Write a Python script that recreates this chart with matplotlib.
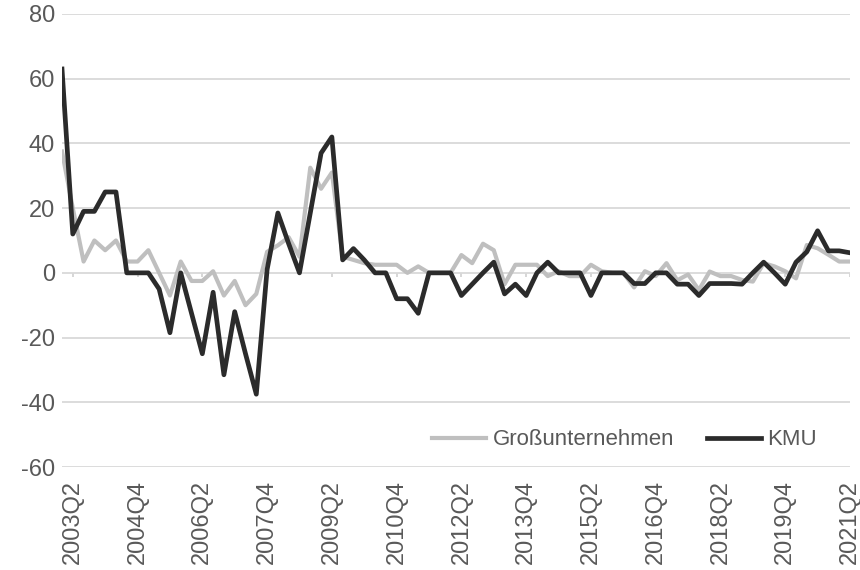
import matplotlib.pyplot as plt
import numpy as np

plt.rcParams['font.family'] = ['Liberation Sans', 'DejaVu Sans']
plt.rcParams['axes.unicode_minus'] = False

# Quartale 2003Q1 bis 2021Q2
quartale = [f"{jahr}Q{q}" for jahr in range(2003, 2022) for q in range(1, 5)]
quartale = quartale[:quartale.index("2021Q2") + 1]

gross = [37.5, 20, 3.5, 10, 7, 10, 3.5, 3.5, 7, 0,
         -7, 3.5, -2.5, -2.5, 0.5, -7, -2.5, -10, -6.5, 6.5,
         8.5, 11, 5, 32.5, 26, 31, 5, 4, 3, 2.5,
         2.5, 2.5, 0, 2, 0, 0, 0, 5.5, 3, 9,
         7, -3.5, 2.5, 2.5, 2.5, -1, 0.5, -1, -1, 2.5,
         0.5, 0, 0, -4.5, 0.5, -1, 3, -2.3, -0.5, -5.3,
         0.4, -1, -1, -2.2, -2.7, 3, 2, 0.5, -1.7, 8.6,
         7.6, 5.6, 3.5, 3.5]

kmu = [63, 12, 19, 19, 25, 25, 0, 0, 0, -5,
       -18.5, 0, -12.5, -25, -6, -31.5, -12, -25, -37.5, 1,
       18.5, 9, 0, 18.5, 37, 42, 4, 7.5, 4, 0,
       0, -8, -8, -12.5, 0, 0, 0, -7, -3.5, 0,
       3.3, -6.5, -3.5, -7, 0, 3.3, 0, 0, 0, -7,
       0, 0, 0, -3.3, -3.3, 0, 0, -3.5, -3.5, -7,
       -3.3, -3.3, -3.3, -3.5, 0, 3.3, 0, -3.5, 3.3, 6.5,
       13, 6.8, 6.8, 6.2]

x = np.arange(len(quartale))
ticks = x[1::6]

fig = plt.figure(figsize=(8.6, 5.7), dpi=100)
ax = fig.add_axes([62 / 860, 103 / 570, 788 / 860, 453 / 570])

ax.plot(x, gross, color='#bfbfbf', lw=3, label='Großunternehmen')
ax.plot(x, kmu, color='#2b2b2b', lw=3.4, label='KMU')

ax.set_xlim(0, len(quartale) - 1)
ax.set_ylim(-60, 80)
ax.set_yticks(range(-60, 81, 20))
ax.grid(axis='y', color='#d9d9d9', lw=1.3)
ax.set_axisbelow(True)
for s in ax.spines.values():
    s.set_visible(False)

# kleine Striche an der Nulllinie
ax.vlines(ticks, -1.3, 0, color='#d0d0d0', lw=1.2, zorder=0)

ax.set_xticks(ticks, [quartale[i] for i in ticks], rotation=90)
ax.tick_params(axis='x', length=0, pad=9, labelsize=17, colors='#595959')
ax.tick_params(axis='y', length=0, pad=5, labelsize=17, colors='#595959')

ax.legend(loc='center', bbox_to_anchor=(0.714, 0.06), ncol=2, frameon=False,
          fontsize=16, handlelength=2.4, handletextpad=0.3, columnspacing=1.5,
          labelcolor='#595959')

plt.savefig('out.png', dpi=100)
